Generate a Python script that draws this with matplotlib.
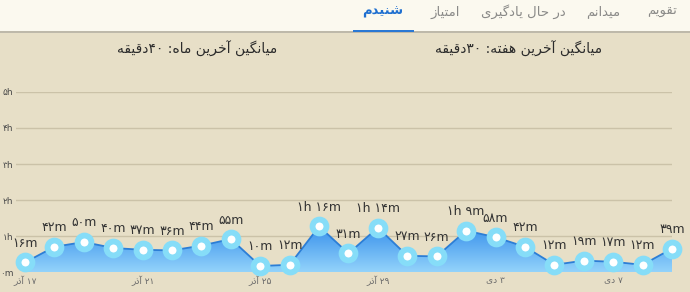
import numpy as np
import matplotlib
matplotlib.use("Agg")
import matplotlib.pyplot as plt
from matplotlib.patches import Rectangle

# data (minutes per day)
minutes = [16, 42, 50, 40, 37, 36, 44, 55, 10, 12, 76, 31, 74, 27, 26, 69, 58, 42, 12, 19, 17, 12, 39]
tick_idx = [0, 4, 8, 12, 16, 20]
tick_labels = ['۱۷ آذر', '۲۱ آذر', '۲۵ آذر', '۲۹ آذر', '۳ دی', '۷ دی']
y_ticks = [0, 60, 120, 180, 240, 300]
y_labels = ['۰m', '۱h', '۲h', '۳h', '۴h', '۵h']
tabs = ['تقویم', 'میدانم', 'در حال یادگیری', 'امتیاز', 'شنیدم']
active_tab = 'شنیدم'
title_month = 'میانگین آخرین ماه: ۴۰دقیقه'
title_week = 'میانگین آخرین هفته: ۳۰دقیقه'

# matplotlib has no arabic shaping, so do it by hand (isolated, final, initial, medial)
FORMS = {
    'ا': ('\uFE8D', '\uFE8E'), 'آ': ('\uFE81', '\uFE82'),
    'د': ('\uFEA9', '\uFEAA'), 'ذ': ('\uFEAB', '\uFEAC'),
    'ر': ('\uFEAD', '\uFEAE'), 'ز': ('\uFEAF', '\uFEB0'),
    'و': ('\uFEED', '\uFEEE'),
    'ت': ('\uFE95', '\uFE96', '\uFE97', '\uFE98'),
    'ح': ('\uFEA1', '\uFEA2', '\uFEA3', '\uFEA4'),
    'خ': ('\uFEA5', '\uFEA6', '\uFEA7', '\uFEA8'),
    'ش': ('\uFEB5', '\uFEB6', '\uFEB7', '\uFEB8'),
    'ف': ('\uFED1', '\uFED2', '\uFED3', '\uFED4'),
    'ق': ('\uFED5', '\uFED6', '\uFED7', '\uFED8'),
    'ل': ('\uFEDD', '\uFEDE', '\uFEDF', '\uFEE0'),
    'م': ('\uFEE1', '\uFEE2', '\uFEE3', '\uFEE4'),
    'ن': ('\uFEE5', '\uFEE6', '\uFEE7', '\uFEE8'),
    'ه': ('\uFEE9', '\uFEEA', '\uFEEB', '\uFEEC'),
    'ی': ('\uFBFC', '\uFBFD', '\uFBFE', '\uFBFF'),
    'گ': ('\uFB92', '\uFB93', '\uFB94', '\uFB95'),
}
DIGITS = set('۰۱۲۳۴۵۶۷۸۹0123456789')


def fa(text):
    out = []
    for i, c in enumerate(text):
        if c not in FORMS:
            out.append(c)
            continue
        prev = text[i - 1] if i > 0 else ''
        nxt = text[i + 1] if i + 1 < len(text) else ''
        jp = prev in FORMS and len(FORMS[prev]) == 4
        jn = nxt in FORMS and len(FORMS[c]) == 4
        f = FORMS[c]
        if jp and jn:
            out.append(f[3])
        elif jp:
            out.append(f[1])
        elif jn:
            out.append(f[2])
        else:
            out.append(f[0])
    # visual order: reverse, but keep digit runs left-to-right
    rev = out[::-1]
    res, run = [], []
    for c in rev:
        if c in DIGITS:
            run.append(c)
        else:
            res.extend(run[::-1])
            run = []
            res.append(c)
    res.extend(run[::-1])
    return ''.join(res)


def fa_num(n):
    return str(n).translate(str.maketrans('0123456789', '۰۱۲۳۴۵۶۷۸۹'))


def fmt(m):
    if m >= 60:
        return fa_num(m // 60) + 'h ' + fa_num(m % 60) + 'm'
    return fa_num(m) + 'm'


plt.rcParams['font.family'] = ['DejaVu Sans']
W, H = 690, 292
fig = plt.figure(figsize=(W / 100, H / 100), dpi=100, facecolor='#E7DFC7')

# tab bar
fig.patches.append(Rectangle((0, 1 - 31 / H), 1, 31 / H, transform=fig.transFigure,
                             facecolor='#FBF9EF', edgecolor='none'))
fig.patches.append(Rectangle((0, 1 - 33 / H), 1, 2 / H, transform=fig.transFigure,
                             facecolor='#BEB9AA', edgecolor='none'))
tab_x = [662, 603, 523, 445, 383]
for name, tx in zip(tabs, tab_x):
    act = name == active_tab
    fig.text(tx / W, 1 - 12 / H, fa(name), ha='center', va='center', fontsize=9.5,
             color='#1E6FD0' if act else '#8A8A88', fontweight='bold' if act else 'normal')
fig.patches.append(Rectangle((353 / W, 1 - 32 / H), 61 / W, 2.5 / H, transform=fig.transFigure,
                             facecolor='#2A78D4', edgecolor='none'))

fig.text(197 / W, 1 - 49 / H, fa(title_month), ha='center', va='center', fontsize=10, color='#2B2B2B')
fig.text(519 / W, 1 - 49 / H, fa(title_week), ha='center', va='center', fontsize=10, color='#2B2B2B')

ax = fig.add_axes([16 / W, 20 / H, 656 / W, 180 / H])
ax.set_facecolor('none')
x = np.arange(len(minutes))
y = np.array(minutes)

for t in y_ticks[1:]:
    ax.axhline(t, color='#CBC2A8', lw=1, zorder=1)

# gradient area
poly = ax.fill_between(x, y, 0, color='none', zorder=2)
grad = np.linspace(0, 1, 256).reshape(-1, 1)
cmap = matplotlib.colors.LinearSegmentedColormap.from_list('g', ['#93D3FB', '#3890EB'])
im = ax.imshow(grad, cmap=cmap, aspect='auto', origin='lower',
               extent=[x[0], x[-1], 0, y.max()], zorder=2)
im.set_clip_path(poly.get_paths()[0], transform=ax.transData)
ax.set_xlim(-0.306, len(minutes) - 1)
ax.set_ylim(0, 300)

ax.plot(x, y, color='#2C7ED6', lw=1.3, zorder=3, clip_on=False)
ax.plot(x, y, 'o', ms=10, mfc='white', mec='#86DDF8', mew=4.2, zorder=4, clip_on=False)

for xi, yi in zip(x, y):
    ax.annotate(fmt(int(yi)), (xi, yi), xytext=(0, 9), textcoords='offset points',
                ha='center', va='bottom', fontsize=9, color='#333333', annotation_clip=False)

ax.set_yticks(y_ticks)
ax.set_yticklabels(y_labels, fontsize=6.5, color='#4A4A4A')
ax.set_xticks(tick_idx)
ax.set_xticklabels([fa(t) for t in tick_labels], fontsize=6.5, color='#6A6A6A')
ax.tick_params(length=0, axis='y', pad=2)
ax.tick_params(length=0, axis='x', pad=3)
for s in ax.spines.values():
    s.set_visible(False)

fig.savefig('out.png', dpi=100, facecolor=fig.get_facecolor())
